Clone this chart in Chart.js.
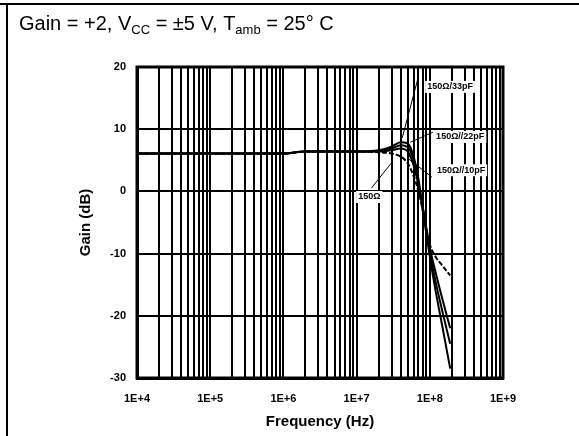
<!DOCTYPE html>
<html>
<head>
<meta charset="utf-8">
<script src="https://cdn.jsdelivr.net/npm/chart.js@4.4.1/dist/chart.umd.min.js"></script>
<style>
  html, body { margin: 0; padding: 0; background: #fff; }
  #wrap { position: relative; width: 579px; height: 436px; }
</style>
</head>
<body>
<div id="wrap"><canvas id="chart"></canvas></div>
<script>
// frequency points (Hz) shared by the four load curves
const freqHz = [1e4, 1e5, 1e6, 2e6, 1e7, 2e7, 3e7, 4e7, 5e7, 6e7, 7e7, 8e7, 1e8, 1.2e8, 1.5e8, 1.9e8];

// gain (dB) per load
const gain150 =     [6.1, 6.1, 6.1, 6.4, 6.4, 6.3, 6.1, 5.6, 4.5, 2.5, 0.0, -3.0, -8.5, -10.5, -12.0, -13.5];
const gain150p10 =  [6.1, 6.1, 6.1, 6.4, 6.4, 6.4, 6.6, 6.9, 6.4, 4.2, 1.0, -2.5, -9.0, -13.0, -17.5, -22.0];
const gain150p22 =  [6.1, 6.1, 6.1, 6.4, 6.4, 6.5, 6.9, 7.4, 7.1, 5.0, 1.5, -2.5, -9.5, -14.5, -19.5, -24.5];
const gain150p33 =  [6.1, 6.1, 6.1, 6.4, 6.4, 6.6, 7.2, 7.9, 7.7, 5.6, 2.0, -3.0, -10.5, -16.0, -22.0, -28.5];

const seriesNames = ['150Ω', '150Ω//10pF', '150Ω//22pF', '150Ω//33pF'];

// axis ticks
const decades = [1e4, 1e5, 1e6, 1e7, 1e8, 1e9];
const decadeLabels = ['1E+4', '1E+5', '1E+6', '1E+7', '1E+8', '1E+9'];
const gainTicks = [-30, -20, -10, 0, 10, 20];

// callouts: text, text anchor [Hz, dB], leader line start and end [Hz, dB]
const calloutText = ['150Ω/33pF', '150Ω//22pF', '150Ω//10pF', '150Ω'];
const calloutAt = [[9.2e7, 16.8], [1.22e8, 8.75], [1.25e8, 3.4], [1.05e7, -0.9]];
const leaderFrom = [[6.9e7, 18.2], [1.1e8, 9.5], [1.07e8, 2.3], [1.6e7, 0.55]];
const leaderTo = [[4.2e7, 8.6], [5.4e7, 7.9], [4.9e7, 5.4], [3.0e7, 4.6]];

// every 1..9 step inside each decade gets a grid line
const gridFreqs = [];
for (let d = 0; d < decades.length - 1; d++) {
  for (let k = 1; k <= 9; k++) gridFreqs.push(decades[d] * k);
}
gridFreqs.push(decades[decades.length - 1]);

const FONT = 'Arial, "Liberation Sans", sans-serif';

function points(gains) {
  return freqHz.map((f, i) => ({ x: f, y: gains[i] }));
}

const allGains = [gain150, gain150p10, gain150p22, gain150p33];
const dashes = [[5, 2], [], [], []];

const datasets = allGains.map((g, i) => ({
  label: seriesNames[i],
  data: points(g),
  borderColor: '#000',
  borderWidth: 2,
  borderDash: dashes[i],
  pointRadius: 0,
  showLine: true,
  fill: false,
  cubicInterpolationMode: 'monotone'
}));

// header text with subscripts, outer frame, plot box and callouts
const decorations = {
  id: 'decorations',
  afterDraw(chart) {
    const ctx = chart.ctx;
    const xs = chart.scales.x, ys = chart.scales.y;
    const area = chart.chartArea;
    ctx.save();

    // frame lines
    ctx.strokeStyle = '#000';
    ctx.lineWidth = 2;
    ctx.beginPath();
    ctx.moveTo(0, 4); ctx.lineTo(579, 4);
    ctx.moveTo(7, 3); ctx.lineTo(7, 436);
    ctx.stroke();

    // plot box
    ctx.lineWidth = 3;
    ctx.strokeRect(area.left, area.top, area.right - area.left, area.bottom - area.top);

    // header
    const parts = [
      ['Gain = +2, V', false], ['CC', true], [' = ±5 V, T', false],
      ['amb', true], [' = 25° C', false]
    ];
    let x = 19;
    const base = 30;
    ctx.fillStyle = '#000';
    ctx.textBaseline = 'alphabetic';
    ctx.textAlign = 'left';
    parts.forEach(([t, sub]) => {
      ctx.font = (sub ? '13px ' : '20px ') + FONT;
      ctx.fillText(t, x, sub ? base + 4 : base);
      x += ctx.measureText(t).width;
    });

    // callout leaders
    ctx.lineWidth = 1;
    ctx.beginPath();
    leaderFrom.forEach((p, i) => {
      ctx.moveTo(xs.getPixelForValue(p[0]), ys.getPixelForValue(p[1]));
      ctx.lineTo(xs.getPixelForValue(leaderTo[i][0]), ys.getPixelForValue(leaderTo[i][1]));
    });
    ctx.stroke();

    // callout labels on white
    ctx.font = 'bold 9px ' + FONT;
    ctx.textBaseline = 'middle';
    calloutText.forEach((t, i) => {
      const px = xs.getPixelForValue(calloutAt[i][0]);
      const py = ys.getPixelForValue(calloutAt[i][1]);
      const w = ctx.measureText(t).width;
      ctx.fillStyle = '#fff';
      ctx.fillRect(px - 2, py - 6, w + 4, 12);
      ctx.fillStyle = '#000';
      ctx.fillText(t, px, py);
    });

    ctx.restore();
  }
};

const config = {
  type: 'scatter',
  data: { datasets: datasets },
  options: {
    responsive: true,
    maintainAspectRatio: false,
    animation: false,
    layout: { padding: { top: 67, right: 76, left: 0, bottom: 0 } },
    plugins: {
      legend: { display: false },
      tooltip: { enabled: false }
    },
    scales: {
      x: {
        type: 'logarithmic',
        min: 1e4,
        max: 1e9,
        afterBuildTicks: s => { s.ticks = gridFreqs.map(v => ({ value: v })); },
        afterFit: s => { s.height = 58; },
        grid: { color: '#000', lineWidth: 2, drawTicks: false },
        border: { color: '#000', width: 3 },
        ticks: {
          autoSkip: false,
          maxRotation: 0,
          padding: 14,
          color: '#000',
          font: { family: FONT, size: 11, weight: 'bold' },
          callback: v => {
            const i = decades.indexOf(v);
            return i >= 0 ? decadeLabels[i] : '';
          }
        },
        title: {
          display: true,
          text: 'Frequency (Hz)',
          color: '#000',
          font: { family: FONT, size: 15, weight: 'bold' },
          padding: { top: 0, bottom: 5 }
        }
      },
      y: {
        min: -30,
        max: 20,
        afterBuildTicks: s => { s.ticks = gainTicks.map(v => ({ value: v })); },
        afterFit: s => { s.width = 137; },
        grid: { color: '#000', lineWidth: 2, drawTicks: false },
        border: { color: '#000', width: 3 },
        ticks: {
          padding: 11,
          color: '#000',
          font: { family: FONT, size: 11, weight: 'bold' }
        },
        title: {
          display: true,
          text: 'Gain (dB)',
          color: '#000',
          font: { family: FONT, size: 15, weight: 'bold' },
          padding: { top: 77, bottom: 0 }
        }
      }
    }
  },
  plugins: [decorations]
};

const chart = new Chart(document.getElementById('chart'), config);
</script>
</body>
</html>
